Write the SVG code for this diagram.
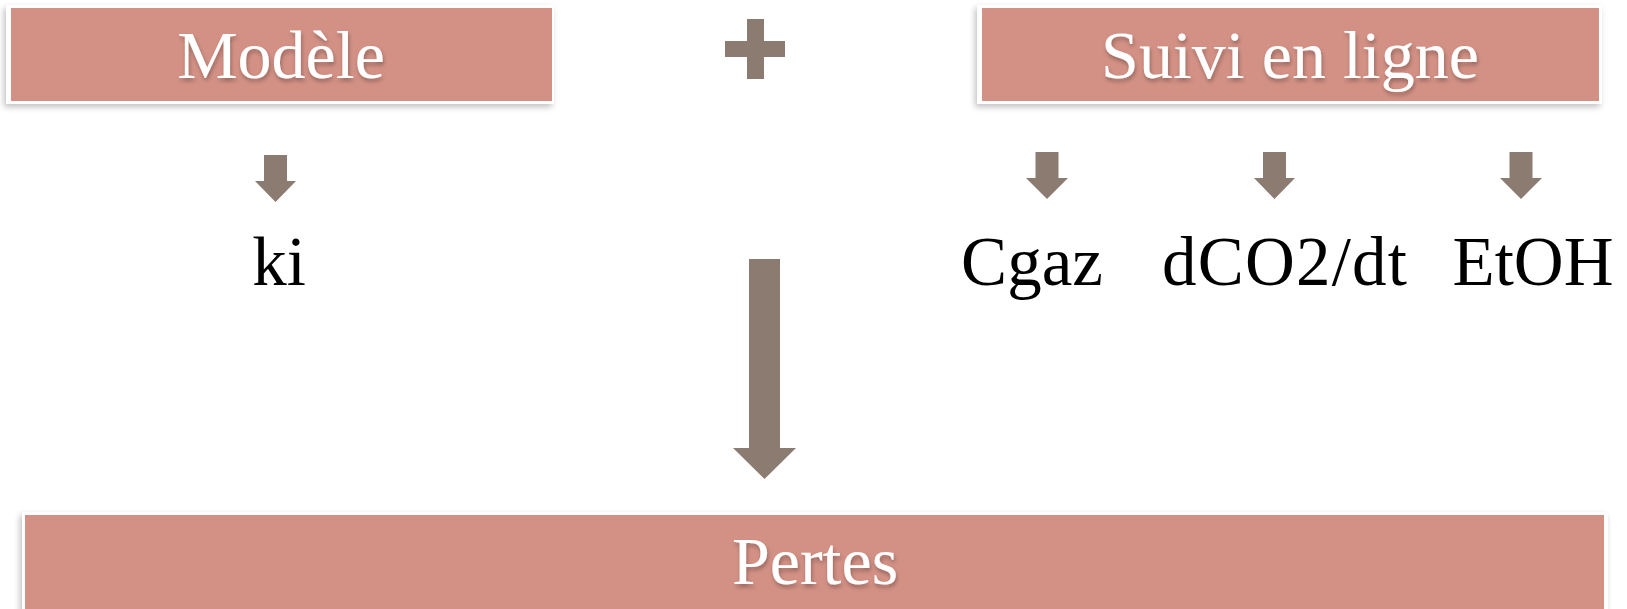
<svg xmlns="http://www.w3.org/2000/svg" width="1627" height="609" viewBox="0 0 1627 609">
<defs>
<filter id="boxShadow" x="-5%" y="-20%" width="110%" height="150%">
<feGaussianBlur in="SourceAlpha" stdDeviation="3"/>
<feOffset dx="-2" dy="3" result="b"/>
<feComponentTransfer><feFuncA type="linear" slope="0.25"/></feComponentTransfer>
<feMerge><feMergeNode/><feMergeNode in="SourceGraphic"/></feMerge>
</filter>
<filter id="textShadow" x="-10%" y="-20%" width="120%" height="150%">
<feGaussianBlur in="SourceAlpha" stdDeviation="2"/>
<feOffset dx="1" dy="3"/>
<feComponentTransfer><feFuncA type="linear" slope="0.3"/></feComponentTransfer>
<feMerge><feMergeNode/><feMergeNode in="SourceGraphic"/></feMerge>
</filter>
</defs>
<style>
.frame{fill:#ffffff}
.box{fill:#D39185}
.title{font-family:"Liberation Serif","Times New Roman",serif;font-size:68px;fill:#ffffff;text-anchor:middle}
.label{font-family:"Liberation Serif","Times New Roman",serif;font-size:69px;fill:#000000;text-anchor:middle}
.arrow{fill:#8C7B70}
</style>
<rect width="1627" height="609" fill="#ffffff"/>
<g id="node-modele">
<rect class="frame" x="6" y="5" width="548" height="99" filter="url(#boxShadow)"/>
<rect class="box" x="11" y="8" width="541" height="93"/>
<text class="title" x="281" y="78" filter="url(#textShadow)">Modèle</text>
</g>
<g id="node-suivi">
<rect class="frame" x="977" y="5" width="625" height="99" filter="url(#boxShadow)"/>
<rect class="box" x="982" y="8" width="617" height="93"/>
<text class="title" x="1290" y="78" filter="url(#textShadow)">Suivi en ligne</text>
</g>
<g id="node-pertes">
<rect class="frame" x="22" y="512" width="1586" height="100" filter="url(#boxShadow)"/>
<rect class="box" x="25" y="515" width="1579" height="94"/>
<text class="title" x="815" y="584" filter="url(#textShadow)">Pertes</text>
</g>
<g id="node-plus">
<rect class="arrow" x="747" y="19" width="17" height="60"/>
<rect class="arrow" x="725" y="41" width="60" height="16"/>
</g>
<g id="node-ki"><text class="label" x="279" y="285">ki</text></g>
<g id="node-cgaz"><text class="label" x="1032" y="285">Cgaz</text></g>
<g id="node-dco2"><text class="label" x="1284.5" y="285" textLength="245" lengthAdjust="spacing">dCO2/dt</text></g>
<g id="node-etoh"><text class="label" x="1533" y="285">EtOH</text></g>
<g id="connectors">
<path class="arrow" d="M264,155 H287 V181 H296 L275.5,202 L255,181 H264 Z"/>
<path class="arrow" d="M1035.5,152 H1058.5 V178 H1068 L1047,199 L1026,178 H1035.5 Z"/>
<path class="arrow" d="M1263,152 H1286 V178 H1295 L1274.5,199 L1254,178 H1263 Z"/>
<path class="arrow" d="M1509.5,152 H1532.5 V178 H1542 L1521,199 L1500,178 H1509.5 Z"/>
<path class="arrow" d="M749,259 H780 V448 H796 L764.5,479 L733,448 H749 Z"/>
</g>
</svg>
